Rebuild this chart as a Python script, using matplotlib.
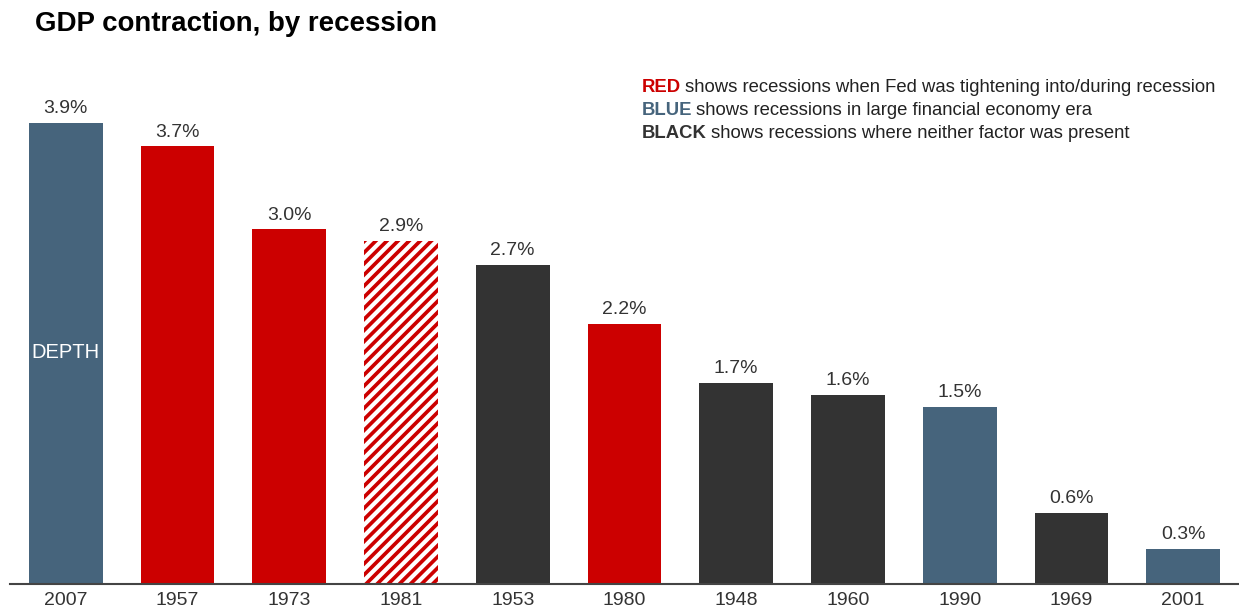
import matplotlib
matplotlib.use("Agg")
import matplotlib.pyplot as plt

years = ["2007", "1957", "1973", "1981", "1953", "1980", "1948", "1960", "1990", "1969", "2001"]
depth = [3.9, 3.7, 3.0, 2.9, 2.7, 2.2, 1.7, 1.6, 1.5, 0.6, 0.3]
groups = ["blue", "red", "red", "redhatch", "black", "red", "black", "black", "blue", "black", "blue"]

RED = "#CC0000"
BLUE = "#46647C"
BLACK = "#333333"
cmap = {"blue": BLUE, "red": RED, "redhatch": RED, "black": BLACK}

plt.rcParams["font.family"] = ["Liberation Sans", "DejaVu Sans"]
plt.rcParams["hatch.linewidth"] = 3.0

fig = plt.figure(figsize=(12.39, 6.11), dpi=100)
ax = fig.add_axes([0.008, 0.0442, 0.992, 0.871])

x = list(range(len(years)))
for i, (v, g) in enumerate(zip(depth, groups)):
    if g == "redhatch":
        ax.bar(i, v, width=0.66, facecolor=RED, edgecolor="white", hatch="///", linewidth=0)
    else:
        ax.bar(i, v, width=0.66, color=cmap[g], linewidth=0)
    ax.annotate(f"{v:.1f}%", (i, v), xytext=(0, 4), textcoords="offset points",
                ha="center", va="bottom", fontsize=14, color=BLACK)

ax.text(0, 1.96, "DEPTH", ha="center", va="center", color="white", fontsize=14.5)

ax.set_xlim(-0.5, 10.5)
ax.set_ylim(0, 4.5)
ax.set_xticks(x)
ax.set_xticklabels(years, fontsize=14, color=BLACK)
ax.tick_params(axis="x", length=0, pad=6)
ax.set_yticks([])
for s in ["top", "right", "left"]:
    ax.spines[s].set_visible(False)
ax.spines["bottom"].set_color("#444444")
ax.spines["bottom"].set_linewidth(1.5)

fig.text(35 / 1239, 1 - 24 / 611, "GDP contraction, by recession", fontsize=19.9, fontweight="bold",
         ha="left", va="center", color="black")

legend_lines = [
    ("RED", RED, "shows recessions when Fed was tightening into/during recession"),
    ("BLUE", BLUE, "shows recessions in large financial economy era"),
    ("BLACK", BLACK, "shows recessions where neither factor was present"),
]
fig.canvas.draw()
renderer = fig.canvas.get_renderer()
ys = [88, 110, 133]
for (word, col, rest), yp in zip(legend_lines, ys):
    t = fig.text(642 / 1239, 1 - yp / 611, word, fontsize=13.3, fontweight="bold", color=col,
                 ha="left", va="center")
    bb = t.get_window_extent(renderer)
    fig.text((bb.x1 + 4) / fig.bbox.width, 1 - yp / 611, rest, fontsize=13.3, color="#222222",
             ha="left", va="center")

fig.savefig("out.png", dpi=100)
